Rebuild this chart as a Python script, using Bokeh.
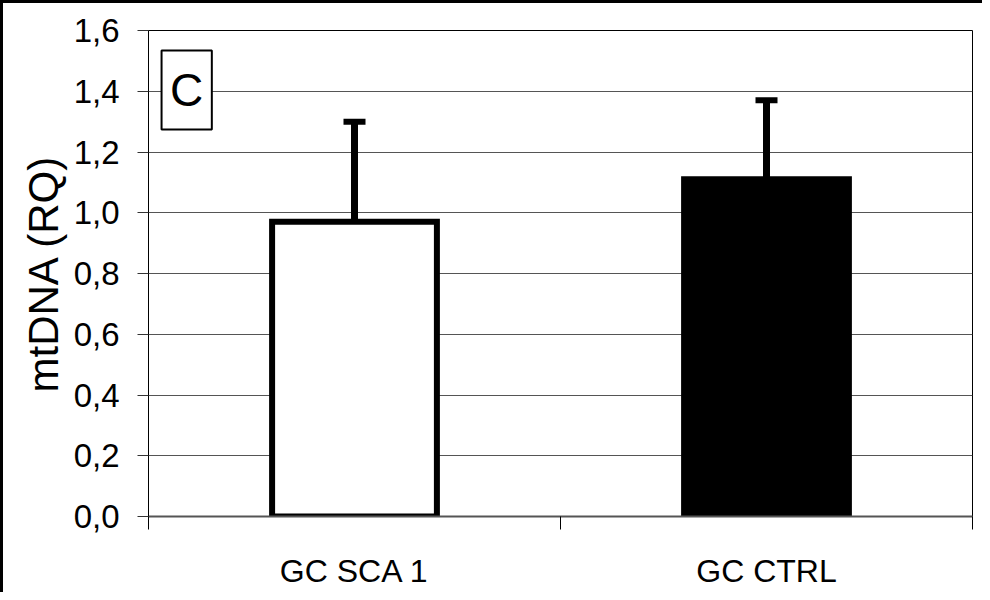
from bokeh.plotting import figure
from bokeh.models import FixedTicker, Whisker, TeeHead, ColumnDataSource, BoxAnnotation, Label, Range1d
from bokeh.embed import file_html
from bokeh.resources import INLINE

categories = ["GC SCA 1", "GC CTRL"]
values = [0.97, 1.11]
errors = [0.33, 0.26]
colors = ["white", "black"]
y_ticks = [0.0, 0.2, 0.4, 0.6, 0.8, 1.0, 1.2, 1.4, 1.6]
y_tick_labels = ["0,0", "0,2", "0,4", "0,6", "0,8", "1,0", "1,2", "1,4", "1,6"]

FONT = "Liberation Sans"
xpos = [i + 0.5 for i in range(len(categories))]

p = figure(width=982, height=592, output_backend="svg", toolbar_location=None,
           x_range=Range1d(0, len(categories)), y_range=Range1d(0, 1.6),
           min_border_left=145, min_border_top=27, min_border_right=13, min_border_bottom=79)
p.styles = {"border-left": "3px solid #000", "border-top": "3px solid #000"}
p.background_fill_color = "white"
p.border_fill_color = "white"
p.outline_line_color = "black"
p.outline_line_width = 1

# grid
p.xgrid.visible = False
p.ygrid.ticker = FixedTicker(ticks=y_ticks)
p.ygrid.grid_line_color = "#555555"
p.ygrid.grid_line_width = 1

src = ColumnDataSource(dict(x=xpos, top=values, color=colors,
                            upper=[v + e for v, e in zip(values, errors)]))
p.vbar(x="x", top="top", width=0.40, bottom=0, source=src,
       fill_color="color", line_color="black", line_width=6, line_join="miter")

w = Whisker(base="x", lower="top", upper="upper", source=src, dimension="height",
            line_color="black", line_width=7, line_cap="butt",
            upper_head=TeeHead(size=22, line_width=6, line_color="black"),
            lower_head=None)
p.add_layout(w)

# "C" panel label box
p.add_layout(BoxAnnotation(left=0.0317, right=0.1537, bottom=1.274, top=1.534,
                           fill_color="white", fill_alpha=1.0,
                           line_color="black", line_alpha=1.0, line_width=2))
p.add_layout(Label(x=0.0927, y=1.404, text="C", text_align="center", text_baseline="middle",
                   text_font=FONT, text_font_size="46px", text_color="black"))

# y axis
ya = p.yaxis[0]
ya.ticker = FixedTicker(ticks=y_ticks)
ya.major_label_overrides = {t: l for t, l in zip(y_ticks, y_tick_labels)}
ya.major_tick_out = 11
ya.major_tick_in = 0
ya.minor_tick_out = 0
ya.minor_tick_in = 0
ya.major_tick_line_color = "#333333"
ya.axis_line_color = "black"
ya.major_label_text_font = FONT
ya.major_label_text_font_size = "33px"
ya.major_label_text_color = "black"
ya.major_label_standoff = 18
ya.axis_label = "mtDNA (RQ)"
ya.axis_label_text_font = FONT
ya.axis_label_text_font_size = "42px"
ya.axis_label_text_font_style = "normal"
ya.axis_label_text_color = "black"
ya.axis_label_standoff = 4

# x axis
xa = p.xaxis[0]
xa.ticker = FixedTicker(ticks=xpos, minor_ticks=list(range(len(categories) + 1)))
xa.major_label_overrides = {x: c for x, c in zip(xpos, categories)}
xa.major_tick_out = 0
xa.major_tick_in = 0
xa.minor_tick_out = 13
xa.minor_tick_in = 0
xa.minor_tick_line_color = "black"
xa.axis_line_color = "#555555"
xa.axis_line_width = 2
xa.major_label_text_font = FONT
xa.major_label_text_font_size = "32px"
xa.major_label_text_color = "black"
xa.major_label_standoff = 23

open("out.html", "w").write(file_html(p, INLINE))
